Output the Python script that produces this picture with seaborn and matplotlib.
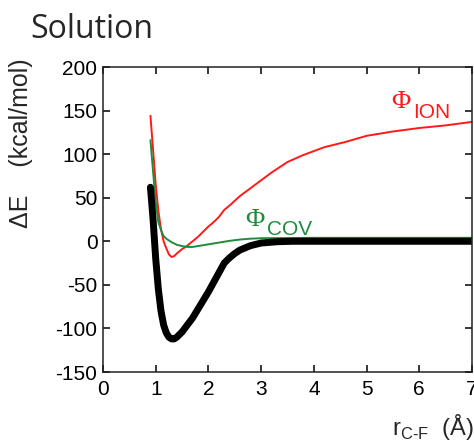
import numpy as np
import pandas as pd
import matplotlib
matplotlib.use("Agg")
import matplotlib.pyplot as plt
import seaborn as sns

# C-F separation (Angstrom) and energies (kcal/mol)
r_total = [0.9, 0.95, 1.0, 1.05, 1.1, 1.15, 1.2, 1.25, 1.3, 1.35, 1.4, 1.5, 1.6, 1.7,
           1.8, 1.9, 2.0, 2.1, 2.2, 2.3, 2.4, 2.5, 2.6, 2.8, 3.0, 3.3, 3.6, 4.0, 5.0, 6.0, 7.0]
e_total = [62, 25, -20, -55, -80, -96, -105, -110, -112, -112, -110, -104, -96, -88,
           -78, -68, -58, -47, -36, -25, -19, -14, -10, -5, -2, -0.5, 0, 0, 0, 0, 0]

r_ion = [0.9, 0.95, 1.0, 1.05, 1.1, 1.15, 1.2, 1.25, 1.3, 1.35, 1.4, 1.5, 1.6, 1.7, 1.8,
         1.9, 2.0, 2.1, 2.2, 2.3, 2.4, 2.6, 2.8, 3.0, 3.2, 3.5, 3.8, 4.2, 4.6, 5.0, 5.5,
         6.0, 6.5, 7.0]
e_ion = [144, 105, 65, 35, 14, 0, -8, -15, -18, -17, -14, -9, -5, 0, 5,
         11, 17, 22, 28, 36, 41, 52, 61, 70, 79, 91, 99, 108, 114, 121, 126,
         130, 133, 137]

r_cov = [0.9, 0.95, 1.0, 1.05, 1.1, 1.15, 1.2, 1.3, 1.4, 1.5, 1.6, 1.7, 1.8, 2.0,
         2.2, 2.4, 2.6, 2.8, 3.0, 4.0, 5.0, 6.0, 7.0]
e_cov = [116, 80, 45, 22, 13, 6, 3, -1, -4, -5.5, -6.5, -6.5, -5.5, -3.5,
         -1.5, 0.5, 2, 3, 3.5, 4, 4, 4, 4]

x_ticks = [0, 1, 2, 3, 4, 5, 6, 7]
y_ticks = [-150, -100, -50, 0, 50, 100, 150, 200]

sns.set_style("ticks")
plt.rcParams['font.family'] = ['Liberation Sans', 'DejaVu Sans']
plt.rcParams['mathtext.fontset'] = 'custom'
plt.rcParams['mathtext.rm'] = 'Liberation Sans'
plt.rcParams['axes.unicode_minus'] = False

fig = plt.figure(figsize=(4.74, 4.43), dpi=100)
ax = fig.add_axes([103 / 474, 1 - 372 / 443, 369 / 474, 305 / 443])

df_total = pd.DataFrame({'r': r_total, 'E': e_total})
df_ion = pd.DataFrame({'r': r_ion, 'E': e_ion})
df_cov = pd.DataFrame({'r': r_cov, 'E': e_cov})

sns.lineplot(data=df_ion, x='r', y='E', color='#ff1a1a', linewidth=1.4, sort=False, ax=ax)
sns.lineplot(data=df_cov, x='r', y='E', color='#1e8c3c', linewidth=1.4, sort=False, ax=ax)
sns.lineplot(data=df_total, x='r', y='E', color='black', linewidth=5, sort=False, ax=ax)

ax.set_xlim(0, 7)
ax.set_ylim(-150, 200)
ax.set_xticks(x_ticks)
ax.set_yticks(y_ticks)
ax.tick_params(direction='in', top=True, right=True, length=5, width=1.1,
               labelsize=15, colors='black')
ax.tick_params(axis='x', pad=6)
ax.tick_params(axis='y', pad=4)
for s in ax.spines.values():
    s.set_linewidth(1.1)
    s.set_color('#222222')

ax.set_ylabel('ΔE    (kcal/mol)', fontsize=18)
ax.yaxis.set_label_coords(-0.19, 0.75)
ax.set_xlabel(r'r$_{\text{C-F}}$  (Å)', fontsize=17, loc='right')
ax.xaxis.set_label_coords(1.004, -0.13)

# curve labels
ax.text(5.65, 160, 'Φ', color='#ff1a1a', fontsize=19, family='Liberation Serif',
        ha='center', va='center')
ax.text(5.88, 148, 'ION', color='#ff1a1a', fontsize=15, ha='left', va='center')
ax.text(2.88, 25, 'Φ', color='#1e8c3c', fontsize=19, family='Liberation Serif',
        ha='center', va='center')
ax.text(3.12, 14, 'COV', color='#1e8c3c', fontsize=15, ha='left', va='center')

fig.text(30 / 474, 1 - 38 / 443, 'Solution', fontsize=23, family='Open Sans',
         ha='left', va='baseline')

fig.savefig('out.png', dpi=100)
